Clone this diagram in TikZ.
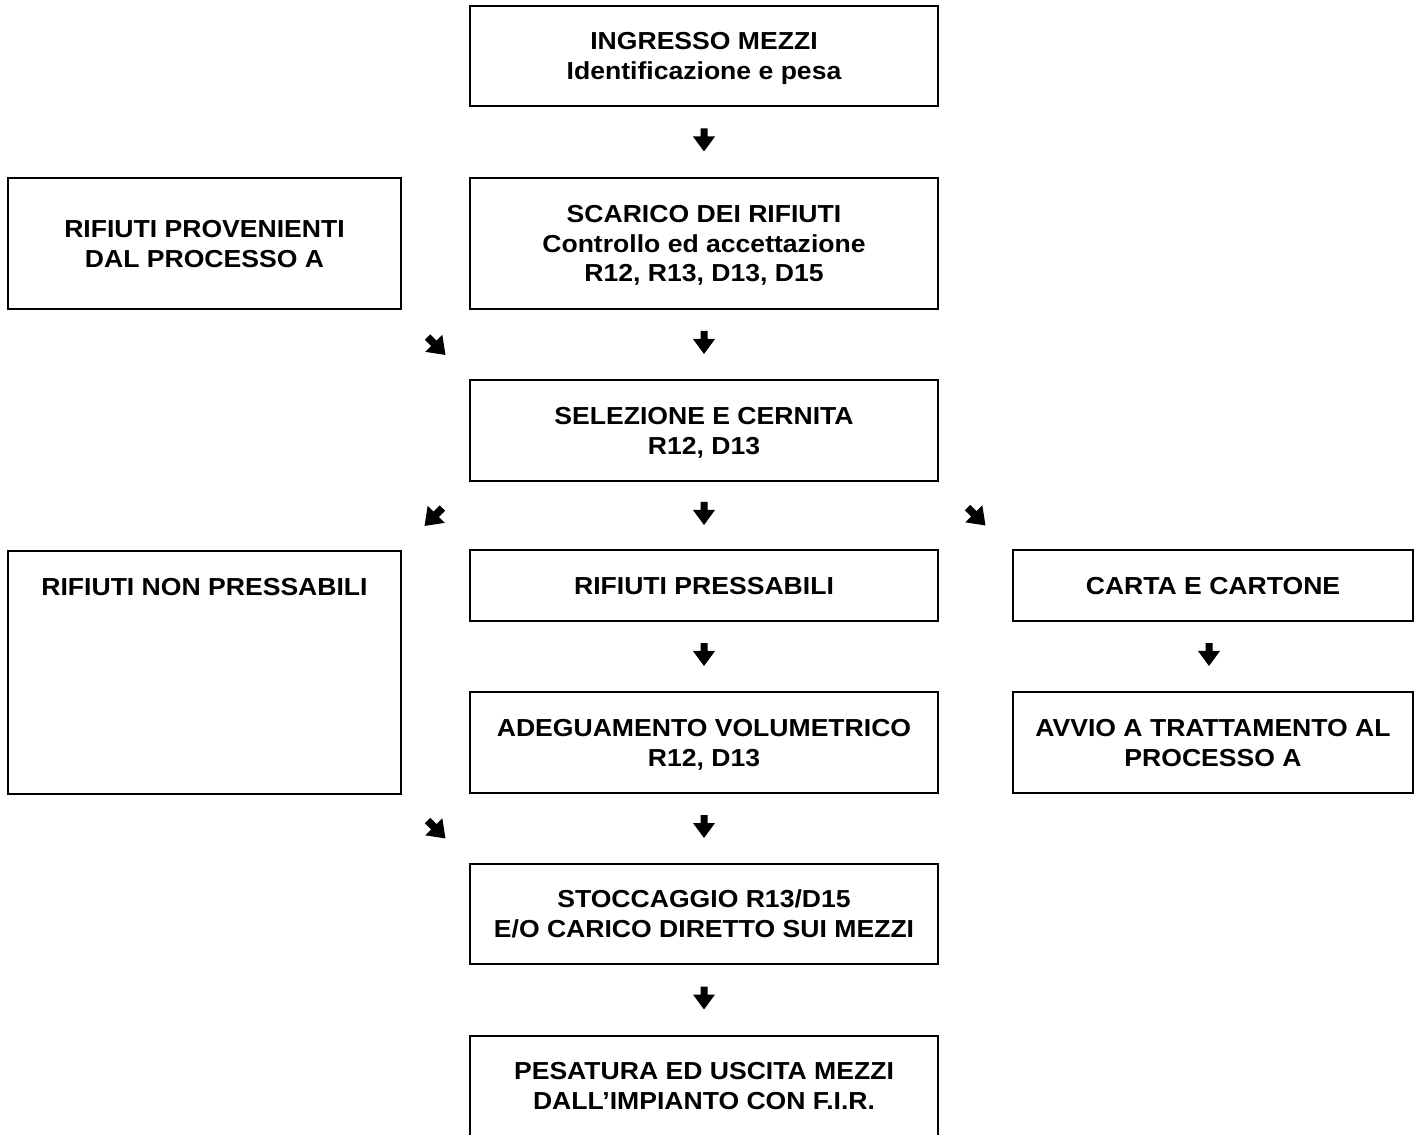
\documentclass[tikz,border=0pt]{standalone}
\usepackage{fontspec}
\setmainfont{Liberation Sans}[FakeStretch=1.08]
\usepackage{tikz}
\usetikzlibrary{positioning,calc}

\begin{document}
\begin{tikzpicture}[
    box/.style={rectangle, draw=black, line width=1.1pt, fill=white, align=center, font=\fontsize{14}{17}\selectfont\bfseries, inner sep=2pt, text depth=0pt},
    glyph/.pic={\fill[black] (-0.07,0.23) -- (0.07,0.23) -- (0.07,0.07) -- (0.22,0.07) -- (0,-0.23) -- (-0.22,0.07) -- (-0.07,0.07) -- cycle;}
]
    \useasboundingbox (0,0) rectangle (28.4,-22.7);

    \node[box, minimum width=9.36cm, minimum height=2.0cm] (ingresso) at (14.08,-1.12) {INGRESSO MEZZI\\Identificazione e pesa};
    \node[box, minimum width=9.36cm, minimum height=2.62cm] (scarico) at (14.08,-4.87) {SCARICO DEI RIFIUTI\\Controllo ed accettazione\\R12, R13, D13, D15};
    \node[box, minimum width=7.86cm, minimum height=2.62cm] (provenienti) at (4.09,-4.87) {RIFIUTI PROVENIENTI\\DAL PROCESSO A};
    \node[box, minimum width=9.36cm, minimum height=2.02cm] (selezione) at (14.08,-8.61) {SELEZIONE E CERNITA\\R12, D13};

    \node[box, minimum width=7.86cm, inner sep=0pt, text height=0.9cm, text depth=3.96cm, anchor=north] (nonpress) at (4.09,-11.0) {RIFIUTI NON PRESSABILI};
    \node[box, minimum width=9.36cm, minimum height=1.42cm] (pressabili) at (14.08,-11.71) {RIFIUTI PRESSABILI};
    \node[box, minimum width=8.0cm, minimum height=1.42cm] (carta) at (24.26,-11.71) {CARTA E CARTONE};

    \node[box, minimum width=9.36cm, minimum height=2.02cm] (adeguamento) at (14.08,-14.85) {ADEGUAMENTO VOLUMETRICO\\R12, D13};
    \node[box, minimum width=8.0cm, minimum height=2.02cm] (avvio) at (24.26,-14.85) {AVVIO A TRATTAMENTO AL\\PROCESSO A};

    \node[box, minimum width=9.36cm, minimum height=2.0cm] (stoccaggio) at (14.08,-18.28) {STOCCAGGIO R13/D15\\E/O CARICO DIRETTO SUI MEZZI};
    \node[box, minimum width=9.36cm, minimum height=2.0cm] (pesatura) at (14.08,-21.72) {PESATURA ED USCITA MEZZI\\DALL'IMPIANTO CON F.I.R.};

    % arrow glyphs
    \pic (a1) at (14.08,-2.80) {glyph};
    \pic (a2) at (14.08,-6.85) {glyph};
    \pic[rotate=45, scale=1.1] (a3) at (8.73,-6.92) {glyph};
    \pic (a4) at (14.08,-10.27) {glyph};
    \pic[rotate=-45, scale=1.1] (a5) at (8.67,-10.34) {glyph};
    \pic[rotate=45, scale=1.1] (a6) at (19.53,-10.33) {glyph};
    \pic (a7) at (14.08,-13.09) {glyph};
    \pic (a8) at (24.18,-13.09) {glyph};
    \pic[rotate=45, scale=1.1] (a9) at (8.73,-16.59) {glyph};
    \pic (a10) at (14.08,-16.53) {glyph};
    \pic (a11) at (14.08,-19.96) {glyph};
\end{tikzpicture}
\end{document}
